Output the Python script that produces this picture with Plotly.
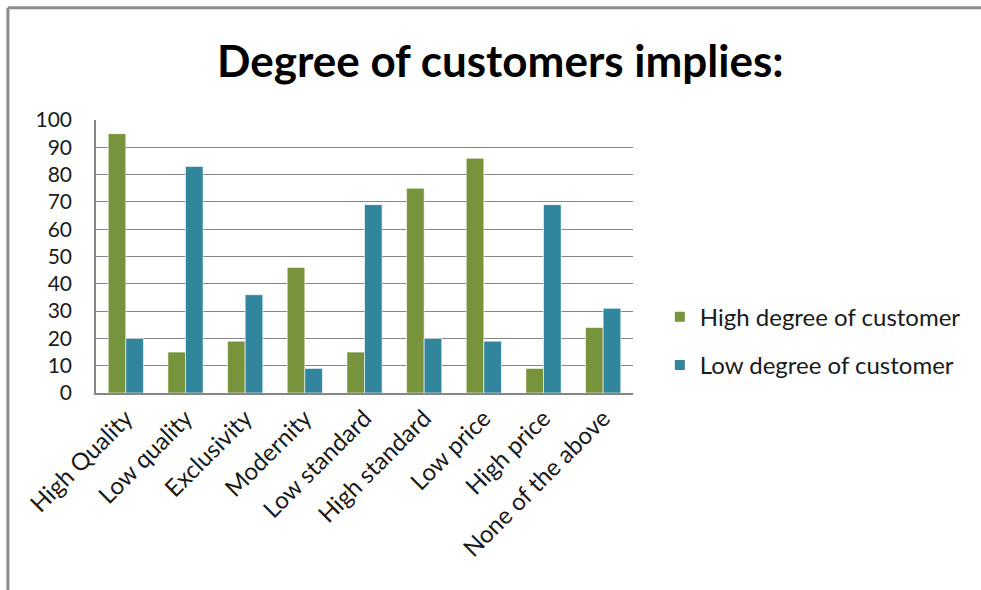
import plotly.graph_objects as go

categories = ["High Quality", "Low quality", "Exclusivity", "Modernity", "Low standard",
              "High standard", "Low price", "High price", "None of the above"]
high_degree = [95, 15, 19, 46, 15, 75, 86, 9, 24]
low_degree = [20, 83, 36, 9, 69, 20, 19, 69, 31]
y_ticks = [0, 10, 20, 30, 40, 50, 60, 70, 80, 90, 100]

FONT = "Lato, Open Sans, sans-serif"

fig = go.Figure()
fig.add_trace(go.Bar(x=categories, y=high_degree, name="High degree of customer",
                     marker=dict(color="#77933C", line=dict(color="#ffffff", width=0.6)),
                     legendgroup="a"))
fig.add_trace(go.Bar(x=categories, y=low_degree, name="Low degree of customer",
                     marker=dict(color="#31859C", line=dict(color="#ffffff", width=0.6)),
                     legendgroup="b"))

fig.update_layout(
    width=981, height=590,
    margin=dict(l=96, r=348, t=120, b=197),
    paper_bgcolor="white", plot_bgcolor="white",
    barmode="group", bargap=0.41, bargroupgap=0,
    title=dict(text="<b>Degree of customers implies:</b>", x=0.51, xanchor="center",
               y=0.895, yanchor="middle",
               font=dict(family=FONT, size=44, color="black")),
    font=dict(family=FONT, size=19, color="#1a1a1a"),
    xaxis=dict(tickangle=-45, showline=True, linecolor="#868686", linewidth=1.5,
               ticks="", tickfont=dict(size=24, family=FONT), mirror=False),
    yaxis=dict(range=[0, 100], tickvals=y_ticks, showline=True, linecolor="#868686",
               linewidth=1.5, gridcolor="#868686", gridwidth=1.3, zeroline=False,
               ticks="", tickfont=dict(size=21, family=FONT), ticklabelstandoff=18),
    legend=dict(x=1.05, y=0.19, xanchor="left", yanchor="middle",
                font=dict(size=24, family=FONT), tracegroupgap=14,
                itemsizing="constant", bgcolor="rgba(0,0,0,0)"),
    shapes=[
        dict(type="line", xref="paper", yref="paper", x0=-0.164, x1=-0.164,
             y0=-1, y1=1.411, line=dict(color="#8c8c8c", width=3)),
        dict(type="line", xref="paper", yref="paper", x0=-0.164, x1=1.8,
             y0=1.411, y1=1.411, line=dict(color="#8c8c8c", width=3)),
    ],
)

fig.write_html("out.html")
